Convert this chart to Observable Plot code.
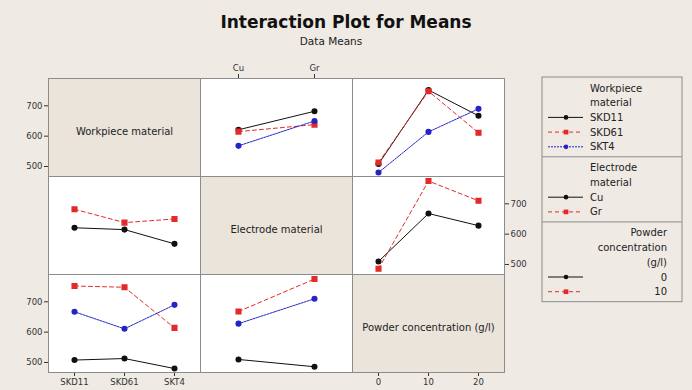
<!DOCTYPE html>
<html><head><meta charset="utf-8">
<script src="https://cdn.jsdelivr.net/npm/d3@7"></script>
<script src="https://cdn.jsdelivr.net/npm/@observablehq/plot@0.6"></script>
<style>
html,body{margin:0;padding:0;background:#efeae4;}
#chart{position:relative;width:692px;height:390px;overflow:hidden;font-family:"DejaVu Sans",sans-serif;color:#222;}
.pan{position:absolute;}
#title{position:absolute;left:0;width:692px;top:12px;text-align:center;font-weight:bold;font-size:17px;line-height:20px;color:#111;}
#subtitle{position:absolute;left:0;width:662px;top:35px;text-align:center;font-size:10.5px;line-height:13px;color:#222;}
#legend{position:absolute;left:540px;top:75px;}
</style></head>
<body>
<div id="chart">
  <div id="title">Interaction Plot for Means</div>
  <div id="subtitle">Data Means</div>
</div>
<script>
// ---- data ----
const factorNames = ["Workpiece material", "Electrode material", "Powder concentration (g/l)"];
const workpiece = ["SKD11", "SKD61", "SKT4"];
const electrode = ["Cu", "Gr"];
const powder = ["0", "10", "20"];
// Workpiece x Electrode means (per workpiece)
const wpElCu = [621, 615, 568];
const wpElGr = [682, 638, 650];
// Workpiece x Powder means (per workpiece)
const wpPc0 = [508, 513, 480];
const wpPc10 = [752, 748, 614];
const wpPc20 = [667, 611, 690];
// Electrode x Powder means (per powder level)
const elPcCu = [510, 668, 628];
const elPcGr = [486, 775, 710];
const yTicks = [500, 600, 700];
const yDomain = [467, 790];

// ---- tables ----
const keys = ["wp", "el", "pc"];
const levels = {wp: workpiece, el: electrode, pc: powder};
const wpEl = [], wpPc = [], elPc = [];
workpiece.forEach((w, i) => electrode.forEach((e, j) => wpEl.push({wp: w, el: e, mean: [wpElCu, wpElGr][j][i]})));
workpiece.forEach((w, i) => powder.forEach((p, k) => wpPc.push({wp: w, pc: p, mean: [wpPc0, wpPc10, wpPc20][k][i]})));
electrode.forEach((e, j) => powder.forEach((p, k) => elPc.push({el: e, pc: p, mean: [elPcCu, elPcGr][j][k]})));
function table(a, b) {
  const s = [a, b].sort().join("");
  return s === "elwp" ? wpEl : s === "pcwp" ? wpPc : elPc;
}

const colors = ["#111111", "#e22a2a", "#2424c8"];
const dashes = [null, "4,3", "2,1"];
const symbols = ["circle", "square", "circle"];
const W = 152, H = 98, M = 30;
const colX = [48, 200, 352], rowY = [78, 176, 274];
const diagFill = "#ebe4db";

function panel(r, c) {
  const xf = keys[c], zf = keys[r];
  let xAxis = null, yAxis = null;
  if ((c === 0 && r === 2) || (c === 2 && r === 2)) xAxis = "bottom";
  if (c === 1 && r === 0) xAxis = "top";
  if (c === 0 && (r === 0 || r === 2)) yAxis = "left";
  if (c === 2 && r === 1) yAxis = "right";
  const marks = [Plot.frame({fill: r === c ? diagFill : "white", stroke: "#8c8c8c"})];
  if (r === c) {
    marks.push(Plot.text([factorNames[r]], {frameAnchor: "middle", dy: 4, fontSize: 10, fill: "#222"}));
  } else {
    const data = table(xf, zf);
    levels[zf].forEach((lv, k) => {
      const d = data.filter(o => o[zf] === lv);
      marks.push(Plot.lineY(d, {x: xf, y: "mean", stroke: colors[k], strokeWidth: 1, strokeDasharray: dashes[k]}));
      marks.push(Plot.dot(d, {x: xf, y: "mean", fill: colors[k], stroke: colors[k], symbol: symbols[k], r: k === 1 ? 2.6 : 2.3}));
    });
  }
  const svg = Plot.plot({
    width: W + 2 * M, height: H + 2 * M, margin: M,
    x: {type: "point", domain: levels[xf], padding: 0.5, axis: xAxis, tickSize: xAxis === "top" ? 5 : 4, tickPadding: xAxis === "top" ? 3 : 2, label: null},
    y: {domain: yDomain, ticks: yTicks, axis: yAxis, tickSize: 4, tickPadding: 2, label: null},
    style: {background: "transparent", overflow: "visible", fontSize: "8.5px", fontFamily: "DejaVu Sans, sans-serif", color: "#333"},
    marks
  });
  svg.classList.add("pan");
  svg.style.position = "absolute";
  svg.style.left = (colX[c] - M) + "px";
  svg.style.top = (rowY[r] - M) + "px";
  return svg;
}

const chart = document.getElementById("chart");
for (let r = 0; r < 3; r++) for (let c = 0; c < 3; c++) chart.appendChild(panel(r, c));

// ---- legend ----
const legendGroups = [
  {title: ["Workpiece", "material"], items: workpiece, align: "start"},
  {title: ["Electrode", "material"], items: electrode, align: "start"},
  {title: ["Powder", "concentration", "(g/l)"], items: powder.slice(0, 2), align: "end"}
];
const lg = d3.select(chart).append("svg").attr("id", "legend").attr("width", 150).attr("height", 232)
  .style("font-family", "DejaVu Sans, sans-serif").style("font-size", "10px");
const lineH = 14.7;
let y0 = 2;
const boxX = 2, boxW = 140;
legendGroups.forEach((g, gi) => {
  const lines = g.title.length + g.items.length;
  const tx = g.align === "start" ? 50 : 127;
  g.title.forEach((t, i) => {
    lg.append("text").attr("x", tx).attr("y", y0 + 11 + i * lineH).attr("dy", "0.35em")
      .attr("text-anchor", g.align).attr("fill", "#222").text(t);
  });
  g.items.forEach((t, k) => {
    const yy = y0 + 11 + (g.title.length + k) * lineH;
    lg.append("line").attr("x1", 8).attr("x2", 43).attr("y1", yy).attr("y2", yy)
      .attr("stroke", colors[k]).attr("stroke-width", 1).attr("stroke-dasharray", dashes[k]);
    lg.append("path").attr("transform", `translate(26,${yy})`)
      .attr("d", d3.symbol(k === 1 ? d3.symbolSquare : d3.symbolCircle, k === 1 ? 22 : 17)())
      .attr("fill", colors[k]);
    lg.append("text").attr("x", tx).attr("y", yy).attr("dy", "0.35em")
      .attr("text-anchor", g.align).attr("fill", "#222").text(t);
  });
  y0 = y0 + 11 + (lines - 1) * lineH + 10;
  if (gi < legendGroups.length - 1) {
    lg.append("line").attr("x1", boxX).attr("x2", boxX + boxW).attr("y1", y0).attr("y2", y0).attr("stroke", "#8c8c8c");
  }
});
lg.append("rect").attr("x", boxX).attr("y", 2).attr("width", boxW).attr("height", y0 - 2)
  .attr("fill", "none").attr("stroke", "#8c8c8c");
</script>
</body></html>
